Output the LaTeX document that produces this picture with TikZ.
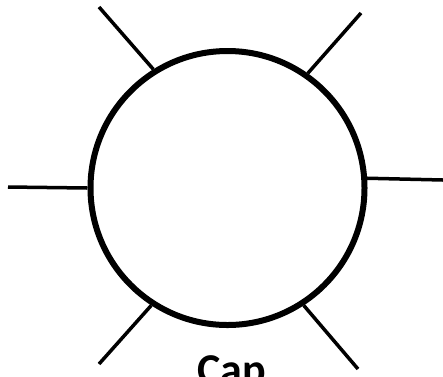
\documentclass[tikz,border=0pt]{standalone}
\usepackage{fontspec}
\setmainfont{Carlito}
\tikzstyle{can}=[shape=circle, draw, line width=6pt, minimum size=274pt, inner sep=0]
\tikzstyle{spoke}=[line width=3.5pt]
\tikzstyle{lbl}=[font=\bfseries\fontsize{44}{44}\selectfont, anchor=base, inner sep=0]

\begin{document}
\begin{tikzpicture}[x=1pt, y=-1pt]
\useasboundingbox (0,0) rectangle (443,376);
\clip (0,0) rectangle (443,376);
\node at (227.5,188) [can](c){};
\coordinate (tl) at (99,7);
\coordinate (tr) at (361,13);
\coordinate (l) at (8,187);
\coordinate (r) at (443,180);
\coordinate (bl) at (99,364);
\coordinate (br) at (358,369);
\draw[spoke] (c.122)--(tl);
\draw[spoke] (c.55)--(tr);
\draw[spoke] (c.180)--(l);
\draw[spoke] (c.4)--(r);
\draw[spoke] (c.-123)--(bl);
\draw[spoke] (c.-57)--(br);
\node at (232,384) [lbl](cap){Cap};
\end{tikzpicture}
\end{document}
